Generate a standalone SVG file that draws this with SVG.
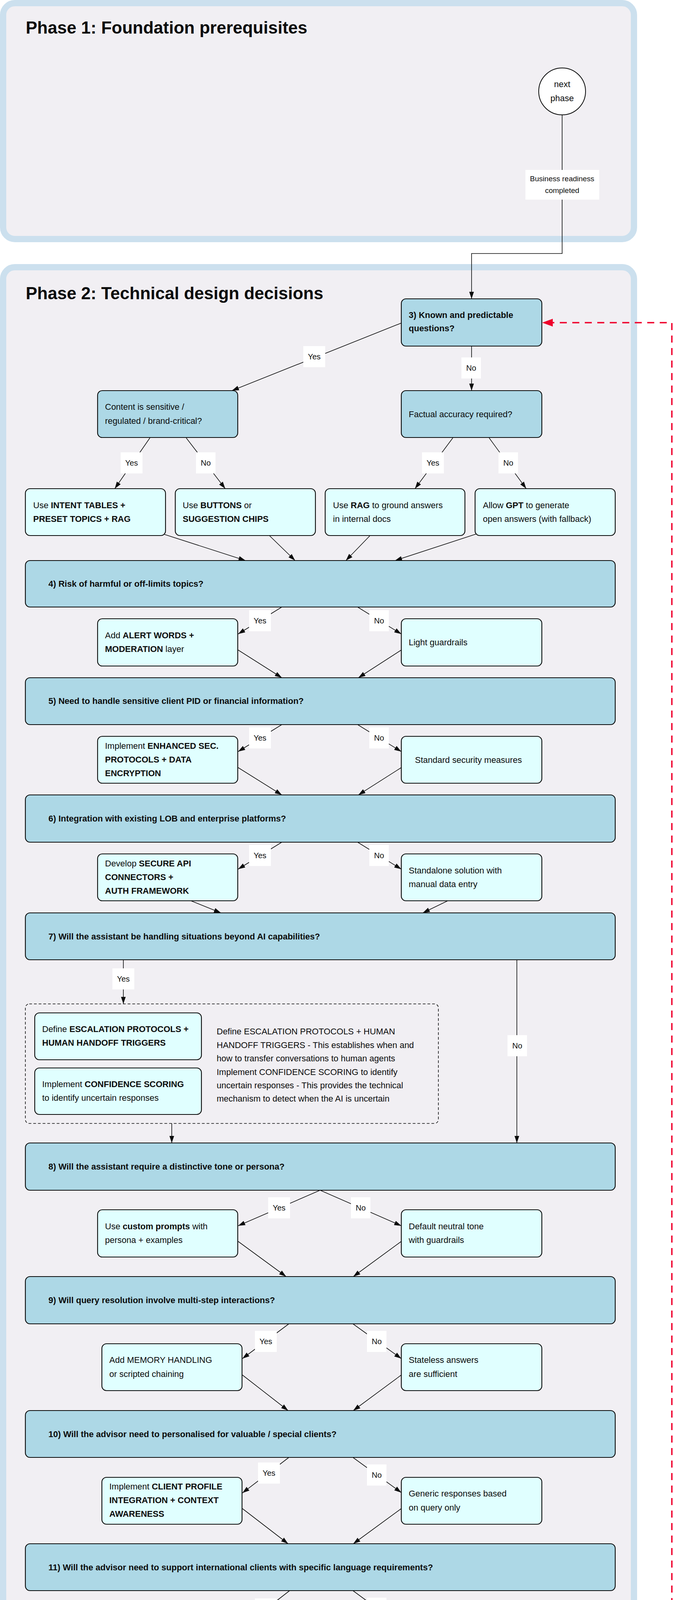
<svg xmlns="http://www.w3.org/2000/svg" width="1724" height="5520" viewBox="0 0 1724 5520">
<defs>
<style>
.phase{fill:#f1eff3;stroke:#cce0ee;stroke-width:16}
.dec{fill:#add8e6;stroke:#0b0c0c;stroke-width:2.2}
.opt{fill:#e0ffff;stroke:#0b0c0c;stroke-width:2.2}
.imp{fill:#ffffe0;stroke:#0b0c0c;stroke-width:2.2}
.circ{fill:#ffffff;stroke:#0b0c0c;stroke-width:2}
.grp{fill:none;stroke:#0b0c0c;stroke-width:1.6;stroke-dasharray:7 5}
.e{fill:none;stroke:#0b0c0c;stroke-width:1.6}
.ea{fill:none;stroke:#0b0c0c;stroke-width:1.6;marker-end:url(#arr)}
.red{fill:none;stroke:#ef002b;stroke-width:3.5;stroke-dasharray:18 14;marker-end:url(#rarr)}
.lb{fill:#ffffff}
text{font-family:"Liberation Sans",Arial,sans-serif;fill:#0b0c0c}
.t{font-size:22px}
.b{font-weight:bold}
.title{font-size:44px;font-weight:bold}
.l{font-size:20px;text-anchor:middle}
.s{font-size:19px;text-anchor:middle}
.c{font-size:22px;text-anchor:middle}
</style>
<marker id="arr" markerWidth="18" markerHeight="12" refX="18" refY="6" orient="auto" markerUnits="userSpaceOnUse"><path d="M0,0 L18,6 L0,12 z" fill="#0b0c0c"/></marker>
<marker id="rarr" markerWidth="27" markerHeight="20" refX="26" refY="10" orient="auto" markerUnits="userSpaceOnUse"><path d="M0,0 L27,10 L0,20 z" fill="#ef002b"/></marker>
</defs>

<g id="phase1">
<rect class="phase" x="8" y="8" width="1616" height="604" rx="30"/>
<text class="title" x="66" y="86">Phase 1: Foundation prerequisites</text>
</g>
<g id="phase2">
<rect class="phase" x="8" y="684" width="1616" height="3713" rx="30"/>
<text class="title" x="66" y="766">Phase 2: Technical design decisions</text>
</g>
<g id="phase3">
<rect class="phase" x="8" y="4480" width="1616" height="1031" rx="30"/>
<text class="title" x="66" y="4556">Phase 3: Implementation and improvement</text>
</g>

<g id="connectors">
<path class="ea" d="M1440,294 V649 H1208 V765"/>
<path class="ea" d="M1028,827 L594,1000"/>
<path class="ea" d="M1208,886 V1000"/>
<path class="ea" d="M384,1121 L294,1251"/>
<path class="ea" d="M477,1121 L577,1251"/>
<path class="ea" d="M1160,1121 L1063,1251"/>
<path class="ea" d="M1253,1121 L1348,1251"/>
<path class="ea" d="M421,1368 L629,1435"/>
<path class="ea" d="M690,1371 L756,1435"/>
<path class="ea" d="M948,1371 L886,1435"/>
<path class="ea" d="M1220,1367 L1012,1435"/>
<path class="ea" d="M722,1554 L610,1623"/>
<path class="ea" d="M916,1554 L1028,1623"/>
<path class="ea" d="M610,1664 L722,1735"/>
<path class="ea" d="M1028,1664 L918,1735"/>
<path class="ea" d="M722,1855 L610,1924"/>
<path class="ea" d="M916,1855 L1028,1924"/>
<path class="ea" d="M610,1965 L722,2035"/>
<path class="ea" d="M1028,1965 L918,2035"/>
<path class="ea" d="M722,2156 L610,2225"/>
<path class="ea" d="M916,2156 L1028,2225"/>
<path class="ea" d="M489,2306 L566,2337"/>
<path class="ea" d="M1147,2306 L1083,2337"/>
<path class="ea" d="M316,2457 V2570"/>
<path class="ea" d="M1324,2457 V2926"/>
<path class="ea" d="M440,2876 V2926"/>
<path class="ea" d="M820,3047 L610,3138"/>
<path class="ea" d="M820,3047 L1028,3138"/>
<path class="ea" d="M610,3178 L733,3268"/>
<path class="ea" d="M1028,3178 L905,3268"/>
<path class="ea" d="M740,3389 L621,3478"/>
<path class="ea" d="M904,3389 L1028,3478"/>
<path class="ea" d="M621,3520 L738,3611"/>
<path class="ea" d="M1028,3520 L905,3611"/>
<path class="ea" d="M740,3731 L621,3822"/>
<path class="ea" d="M904,3731 L1028,3821"/>
<path class="ea" d="M621,3862 L738,3952"/>
<path class="ea" d="M1028,3862 L905,3952"/>
<path class="ea" d="M742,4072 L621,4166"/>
<path class="ea" d="M904,4072 L1028,4163"/>
<path class="ea" d="M621,4207 L768,4266"/>
<path class="ea" d="M1028,4204 L881,4265"/>
<path class="ea" d="M884,4286 H1191 V4645 H820 V4771"/>
<path class="ea" d="M689,4891 L623,4925"/>
<path class="ea" d="M616,5046 V5079"/>
<path class="ea" d="M616,5199 V5235"/>
<path class="red" d="M1576,5212 H1721 V826 H1390"/>

<g id="edge-labels">
<rect class="lb" x="1346" y="435" width="189" height="76"/>
<text class="s" x="1440" y="464">Business readiness</text>
<text class="s" x="1440" y="494">completed</text>
<rect class="lb" x="951" y="4607" width="162" height="77"/>
<text class="s" x="1032" y="4638">Technical design</text>
<text class="s" x="1032" y="4667">completed</text>

<rect class="lb" x="777" y="886" width="56" height="54"/><text class="l" x="805" y="920">Yes</text>
<rect class="lb" x="1182" y="915" width="50" height="54"/><text class="l" x="1207" y="949">No</text>
<rect class="lb" x="309" y="1158" width="56" height="54"/><text class="l" x="337" y="1192">Yes</text>
<rect class="lb" x="502" y="1158" width="50" height="54"/><text class="l" x="527" y="1192">No</text>
<rect class="lb" x="1081" y="1158" width="56" height="54"/><text class="l" x="1109" y="1192">Yes</text>
<rect class="lb" x="1277" y="1158" width="50" height="54"/><text class="l" x="1302" y="1192">No</text>
<rect class="lb" x="638" y="1562" width="56" height="54"/><text class="l" x="666" y="1596">Yes</text>
<rect class="lb" x="946" y="1562" width="50" height="54"/><text class="l" x="971" y="1596">No</text>
<rect class="lb" x="638" y="1862" width="56" height="54"/><text class="l" x="666" y="1896">Yes</text>
<rect class="lb" x="946" y="1862" width="50" height="54"/><text class="l" x="971" y="1896">No</text>
<rect class="lb" x="638" y="2163" width="56" height="54"/><text class="l" x="666" y="2197">Yes</text>
<rect class="lb" x="946" y="2163" width="50" height="54"/><text class="l" x="971" y="2197">No</text>
<rect class="lb" x="288" y="2479" width="56" height="54"/><text class="l" x="316" y="2513">Yes</text>
<rect class="lb" x="1300" y="2650" width="50" height="54"/><text class="l" x="1325" y="2684">No</text>
<rect class="lb" x="687" y="3065" width="56" height="54"/><text class="l" x="715" y="3099">Yes</text>
<rect class="lb" x="899" y="3065" width="50" height="54"/><text class="l" x="924" y="3099">No</text>
<rect class="lb" x="653" y="3407" width="56" height="54"/><text class="l" x="681" y="3441">Yes</text>
<rect class="lb" x="940" y="3407" width="50" height="54"/><text class="l" x="965" y="3441">No</text>
<rect class="lb" x="661" y="3744" width="56" height="54"/><text class="l" x="689" y="3778">Yes</text>
<rect class="lb" x="940" y="3749" width="50" height="54"/><text class="l" x="965" y="3783">No</text>
<rect class="lb" x="653" y="4092" width="56" height="54"/><text class="l" x="681" y="4126">Yes</text>
<rect class="lb" x="940" y="4090" width="50" height="54"/><text class="l" x="965" y="4124">No</text>
</g>
</g>

<g id="start-p1">
<circle class="circ" cx="1440" cy="234" r="60"/>
<text class="c" x="1440" y="223">next</text>
<text class="c" x="1440" y="259">phase</text>
</g>

<g id="q3">
<rect class="dec" x="1028" y="765" width="360" height="121" rx="12"/>
<text class="t b" x="1047" y="814">3) Known and predictable</text>
<text class="t b" x="1047" y="848">questions?</text>
</g>
<g id="q3-sensitive">
<rect class="dec" x="250" y="1000" width="359" height="120" rx="12"/>
<text class="t" x="269" y="1049">Content is sensitive /</text>
<text class="t" x="269" y="1085">regulated / brand-critical?</text>
</g>
<g id="q3-factual">
<rect class="dec" x="1028" y="1000" width="360" height="120" rx="12"/>
<text class="t" x="1047" y="1068">Factual accuracy required?</text>
</g>
<g id="opt-intent">
<rect class="opt" x="65" y="1251" width="359" height="120" rx="12"/>
<text class="t" x="85" y="1301">Use <tspan class="b">INTENT TABLES +</tspan></text>
<text class="t b" x="85" y="1336">PRESET TOPICS + RAG</text>
</g>
<g id="opt-buttons">
<rect class="opt" x="449" y="1251" width="359" height="120" rx="12"/>
<text class="t" x="468" y="1301">Use <tspan class="b">BUTTONS</tspan> or</text>
<text class="t b" x="468" y="1336">SUGGESTION CHIPS</text>
</g>
<g id="opt-rag">
<rect class="opt" x="833" y="1251" width="358" height="120" rx="12"/>
<text class="t" x="853" y="1301">Use <tspan class="b">RAG</tspan> to ground answers</text>
<text class="t" x="853" y="1336">in internal docs</text>
</g>
<g id="opt-gpt">
<rect class="opt" x="1217" y="1251" width="359" height="120" rx="12"/>
<text class="t" x="1237" y="1301">Allow <tspan class="b">GPT</tspan> to generate</text>
<text class="t" x="1237" y="1336">open answers (with fallback)</text>
</g>

<g id="q4">
<rect class="dec" x="65" y="1435" width="1511" height="119" rx="12"/>
<text class="t b" x="124" y="1502">4) Risk of harmful or off-limits topics?</text>
</g>
<g id="opt-alert">
<rect class="opt" x="250" y="1584" width="359" height="121" rx="12"/>
<text class="t" x="269" y="1634">Add <tspan class="b">ALERT WORDS +</tspan></text>
<text class="t" x="269" y="1669"><tspan class="b">MODERATION</tspan> layer</text>
</g>
<g id="opt-light">
<rect class="opt" x="1028" y="1584" width="360" height="121" rx="12"/>
<text class="t" x="1047" y="1652">Light guardrails</text>
</g>

<g id="q5">
<rect class="dec" x="65" y="1735" width="1511" height="120" rx="12"/>
<text class="t b" x="124" y="1802">5) Need to handle sensitive client PID or financial information?</text>
</g>
<g id="opt-enhanced">
<rect class="opt" x="250" y="1885" width="359" height="120" rx="12"/>
<text class="t" x="269" y="1917">Implement <tspan class="b">ENHANCED SEC.</tspan></text>
<text class="t b" x="269" y="1952">PROTOCOLS + DATA</text>
<text class="t b" x="269" y="1987">ENCRYPTION</text>
</g>
<g id="opt-standard">
<rect class="opt" x="1028" y="1885" width="360" height="120" rx="12"/>
<text class="t" x="1063" y="1953">Standard security measures</text>
</g>

<g id="q6">
<rect class="dec" x="65" y="2035" width="1511" height="121" rx="12"/>
<text class="t b" x="124" y="2103">6) Integration with existing LOB and enterprise platforms?</text>
</g>
<g id="opt-api">
<rect class="opt" x="250" y="2186" width="359" height="120" rx="12"/>
<text class="t" x="269" y="2218">Develop <tspan class="b">SECURE API</tspan></text>
<text class="t b" x="269" y="2253">CONNECTORS +</text>
<text class="t b" x="269" y="2288">AUTH FRAMEWORK</text>
</g>
<g id="opt-standalone">
<rect class="opt" x="1028" y="2186" width="360" height="120" rx="12"/>
<text class="t" x="1047" y="2236">Standalone solution with</text>
<text class="t" x="1047" y="2271">manual data entry</text>
</g>

<g id="q7">
<rect class="dec" x="65" y="2337" width="1511" height="120" rx="12"/>
<text class="t b" x="124" y="2405">7) Will the assistant be handling situations beyond AI capabilities?</text>
</g>
<g id="escalation-group">
<rect class="grp" x="65" y="2570" width="1058" height="306" rx="10"/>
<text class="t" x="555" y="2648">Define ESCALATION PROTOCOLS + HUMAN</text>
<text class="t" x="555" y="2683">HANDOFF TRIGGERS - This establishes when and</text>
<text class="t" x="555" y="2717">how to transfer conversations to human agents</text>
<text class="t" x="555" y="2752">Implement CONFIDENCE SCORING to identify</text>
<text class="t" x="555" y="2786">uncertain responses - This provides the technical</text>
<text class="t" x="555" y="2820">mechanism to detect when the AI is uncertain</text>
</g>
<g id="opt-escalation">
<rect class="opt" x="89" y="2593" width="427" height="120" rx="12"/>
<text class="t" x="108" y="2642">Define <tspan class="b">ESCALATION PROTOCOLS +</tspan></text>
<text class="t b" x="108" y="2677">HUMAN HANDOFF TRIGGERS</text>
</g>
<g id="opt-confidence">
<rect class="opt" x="89" y="2734" width="427" height="119" rx="12"/>
<text class="t" x="108" y="2783">Implement <tspan class="b">CONFIDENCE SCORING</tspan></text>
<text class="t" x="108" y="2818">to identify uncertain responses</text>
</g>

<g id="q8">
<rect class="dec" x="65" y="2926" width="1511" height="121" rx="12"/>
<text class="t b" x="124" y="2994">8) Will the assistant require a distinctive tone or persona?</text>
</g>
<g id="opt-custom">
<rect class="opt" x="250" y="3097" width="359" height="121" rx="12"/>
<text class="t" x="269" y="3147">Use <tspan class="b">custom prompts</tspan> with</text>
<text class="t" x="269" y="3182">persona + examples</text>
</g>
<g id="opt-default">
<rect class="opt" x="1028" y="3097" width="360" height="121" rx="12"/>
<text class="t" x="1047" y="3147">Default neutral tone</text>
<text class="t" x="1047" y="3182">with guardrails</text>
</g>

<g id="q9">
<rect class="dec" x="65" y="3268" width="1511" height="121" rx="12"/>
<text class="t b" x="124" y="3336">9) Will query resolution involve multi-step interactions?</text>
</g>
<g id="opt-memory">
<rect class="opt" x="261" y="3440" width="359" height="120" rx="12"/>
<text class="t" x="280" y="3489">Add MEMORY HANDLING</text>
<text class="t" x="280" y="3525">or scripted chaining</text>
</g>
<g id="opt-stateless">
<rect class="opt" x="1028" y="3440" width="360" height="120" rx="12"/>
<text class="t" x="1047" y="3489">Stateless answers</text>
<text class="t" x="1047" y="3525">are sufficient</text>
</g>

<g id="q10">
<rect class="dec" x="65" y="3611" width="1511" height="120" rx="12"/>
<text class="t b" x="124" y="3679">10) Will the advisor need to personalised for valuable / special clients?</text>
</g>
<g id="opt-profile">
<rect class="opt" x="261" y="3782" width="359" height="120" rx="12"/>
<text class="t" x="280" y="3813">Implement <tspan class="b">CLIENT PROFILE</tspan></text>
<text class="t b" x="280" y="3848">INTEGRATION + CONTEXT</text>
<text class="t b" x="280" y="3883">AWARENESS</text>
</g>
<g id="opt-generic">
<rect class="opt" x="1028" y="3782" width="360" height="120" rx="12"/>
<text class="t" x="1047" y="3831">Generic responses based</text>
<text class="t" x="1047" y="3867">on query only</text>
</g>

<g id="q11">
<rect class="dec" x="65" y="3952" width="1511" height="120" rx="12"/>
<text class="t b" x="124" y="4020">11) Will the advisor need to support international clients with specific language requirements?</text>
</g>
<g id="opt-multilingual">
<rect class="opt" x="261" y="4127" width="359" height="120" rx="12"/>
<text class="t" x="280" y="4159">Add <tspan class="b">MULTILINGUAL CAPABS</tspan></text>
<text class="t b" x="280" y="4194">+ CULTURAL CONTEXT</text>
<text class="t b" x="280" y="4228">AWARENESS</text>
</g>
<g id="opt-single">
<rect class="opt" x="1028" y="4122" width="360" height="121" rx="12"/>
<text class="t" x="1047" y="4174">Single language</text>
<text class="t" x="1047" y="4208">implementation</text>
</g>
<g id="next-p2">
<circle class="circ" cx="824" cy="4286" r="60"/>
<text class="c" x="824" y="4275">next</text>
<text class="c" x="824" y="4311">phase</text>
</g>

<g id="q12">
<rect class="dec" x="65" y="4771" width="1511" height="120" rx="12"/>
<text class="t b" x="124" y="4838">12) Launch pilot and manage continuous improvement</text>
</g>
<g id="step-launch">
<rect class="imp" x="65" y="4925" width="1100" height="121" rx="12"/>
<text class="t" x="85" y="4993">Launch pilot cohort with defined metrics</text>
</g>
<g id="step-monitor">
<rect class="imp" x="65" y="5079" width="1100" height="120" rx="12"/>
<text class="t" x="85" y="5147">Monitor dashboards: CSAT, fallback rates, error trends</text>
</g>
<g id="step-review">
<rect class="imp" x="65" y="5235" width="1100" height="120" rx="12"/>
<text class="t" x="85" y="5302">Regular review cadence</text>
</g>
<g id="feedback">
<rect class="imp" x="1217" y="4925" width="359" height="430" rx="12"/>
<text class="t" x="1237" y="5130">Feedback loop to refine</text>
<text class="t" x="1237" y="5165">decisions in steps 3-11</text>
</g>
</svg>
